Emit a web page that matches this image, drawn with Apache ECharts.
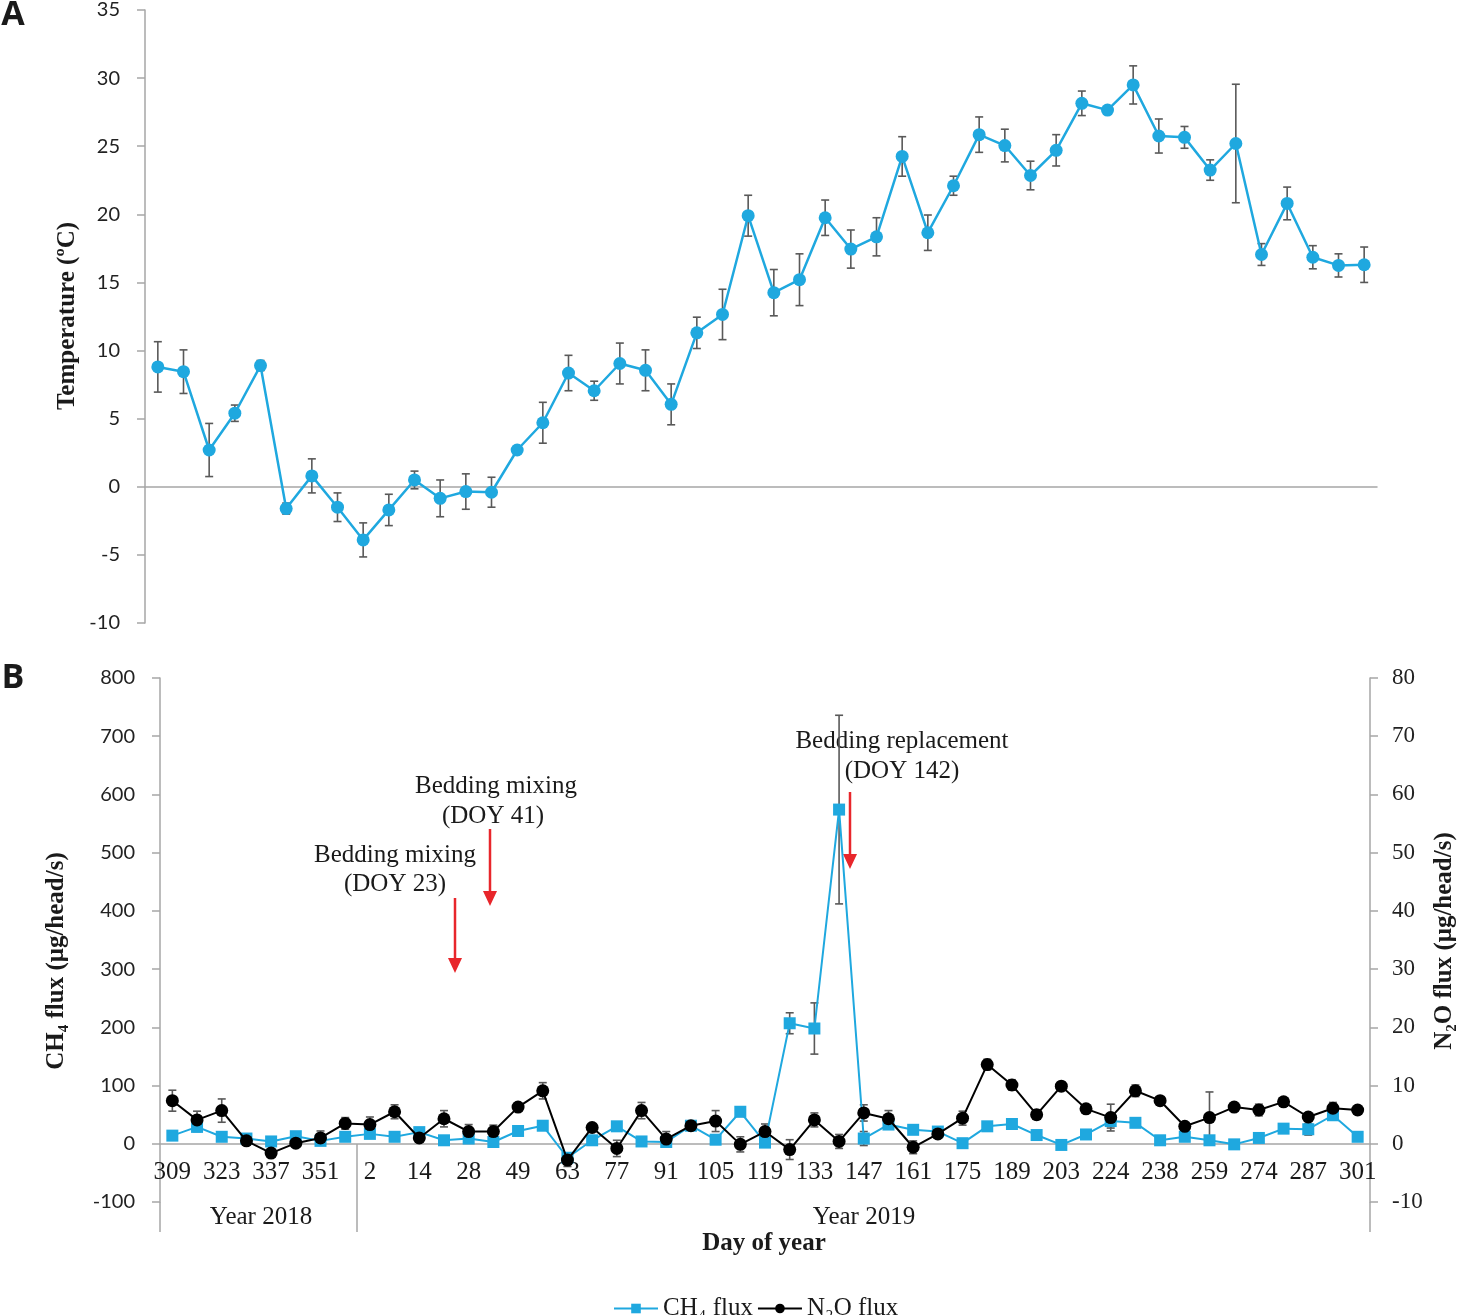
<!DOCTYPE html>
<html>
<head>
<meta charset="utf-8">
<script src="https://cdn.jsdelivr.net/npm/echarts@6/dist/echarts.min.js"></script>
<style>
html,body{margin:0;padding:0;background:#fff;}
#chart{width:1459px;height:1315px;}
</style>
</head>
<body>
<div id="chart"></div>
<script>
// ---------- Panel A: temperature ----------
var tempValues = [8.8, 8.45, 2.7, 5.4, 8.9, -1.6, 0.8, -1.5, -3.9, -1.7, 0.5, -0.85, -0.35, -0.4, 2.7, 4.7,
  8.35, 7.05, 9.05, 8.55, 6.05, 11.3, 12.65, 19.9, 14.25, 15.2, 19.75, 17.45, 18.35, 24.25, 18.65, 22.1,
  25.85, 25.05, 22.85, 24.7, 28.15, 27.65, 29.5, 25.75, 25.65, 23.25, 25.2, 17.05, 20.8, 16.85, 16.25, 16.3];
var tempErr = [1.85, 1.6, 1.95, 0.6, 0.37, 0.4, 1.25, 1.05, 1.25, 1.15, 0.65, 1.35, 1.3, 1.1, 0.2, 1.5,
  1.3, 0.7, 1.5, 1.5, 1.5, 1.15, 1.85, 1.5, 1.7, 1.9, 1.3, 1.4, 1.4, 1.45, 1.3, 0.7,
  1.3, 1.2, 1.05, 1.15, 0.9, 0.2, 1.4, 1.25, 0.8, 0.75, 4.35, 0.8, 1.2, 0.85, 0.85, 1.3];
var tempTicks = [-10, 35, 5];

// ---------- Panel B: fluxes ----------
var doyLabels = ['309','316','323','330','337','344','351','358','2','8','14','21','28','35','49','56',
  '63','70','77','84','91','98','105','112','119','126','133','140','147','154','161','168','175','182',
  '189','196','203','210','224','231','238','245','259','266','274','280','287','294','301'];
var ch4Values = [14, 29, 12, 9, 4, 13, 5, 12, 17, 12, 20, 6, 9, 3, 22, 31, -24, 6, 30, 4, 3, 31, 7, 55,
  2, 207, 198, 574, 9, 33, 24, 21, 1, 30, 34, 15, -2, 16, 39, 36, 6, 12, 6, -1, 10, 26, 25, 49, 12];
var ch4Err = [5, 8, 5, 3, 3, 4, 3, 4, 5, 4, 4, 3, 3, 2, 4, 5, 6, 3, 4, 3, 3, 5, 4, 8,
  5, 18, 44, 162, 12, 8, 5, 5, 4, 5, 5, 4, 3, 4, 12, 6, 3, 3, 5, 3, 3, 4, 10, 8, 3];
var n2oValues = [7.4, 4.1, 5.7, 0.5, -1.6, 0.1, 1.0, 3.5, 3.3, 5.5, 1.0, 4.3, 2.1, 2.1, 6.3, 9.1, -2.8,
  2.8, -0.8, 5.7, 0.8, 3.1, 3.9, -0.1, 2.1, -1.0, 4.1, 0.4, 5.3, 4.3, -0.6, 1.7, 4.4, 13.6, 10.1, 5.0,
  9.9, 6.0, 4.5, 9.1, 7.4, 3.0, 4.5, 6.3, 5.8, 7.2, 4.6, 6.1, 5.8];
var n2oErr = [1.8, 1.5, 2.0, 0.4, 0.5, 0.4, 1.2, 1.0, 1.3, 1.2, 0.4, 1.4, 1.2, 1.1, 0.6, 1.4, 1.1,
  0.6, 1.4, 1.4, 1.3, 0.7, 1.8, 1.3, 1.3, 1.7, 1.2, 1.2, 1.4, 1.4, 1.1, 0.6, 1.2, 0.9, 0.9, 0.8,
  0.6, 0.5, 2.3, 1.0, 0.5, 0.5, 4.4, 0.5, 1.0, 0.6, 0.5, 1.0, 0.3];
var ch4Ticks = [-100, 800, 100];
var n2oTicks = [-10, 80, 10];

var BLUE = '#1FA8DF';
var AXIS = '#A6A6A6';
var ERR = '#595959';
var SERIF = '"Liberation Serif", "Times New Roman", serif';
var SANS = 'Lato, "Open Sans", sans-serif';

function errData(vals, errs) {
  return vals.map(function (v, i) { return [i, v - errs[i], v + errs[i]]; });
}
function errRender(params, api) {
  var x = api.value(0);
  var lo = api.coord([x, api.value(1)]);
  var hi = api.coord([x, api.value(2)]);
  var c = 4;
  var st = { stroke: ERR, lineWidth: 1.6 };
  return {
    type: 'group',
    children: [
      { type: 'line', shape: { x1: lo[0], y1: lo[1], x2: hi[0], y2: hi[1] }, style: st },
      { type: 'line', shape: { x1: hi[0] - c, y1: hi[1], x2: hi[0] + c, y2: hi[1] }, style: st },
      { type: 'line', shape: { x1: lo[0] - c, y1: lo[1], x2: lo[0] + c, y2: lo[1] }, style: st }
    ]
  };
}
function idx(arr) { return arr.map(function (_, i) { return String(i); }); }

function arrow(x, y1, y2) {
  return {
    type: 'group',
    children: [
      { type: 'line', shape: { x1: x, y1: y1, x2: x, y2: y2 - 12 }, style: { stroke: '#E8262B', lineWidth: 2.5 } },
      { type: 'polygon', shape: { points: [[x - 7, y2 - 15], [x + 7, y2 - 15], [x, y2]] }, style: { fill: '#E8262B' } }
    ]
  };
}
function txt(x, y, s, font, rot) {
  return {
    type: 'text', x: x, y: y, rotation: rot || 0,
    style: { text: s, font: font, fill: '#1a1a1a', textAlign: 'center', textVerticalAlign: 'middle' }
  };
}
function vline(x, y1, y2) {
  return { type: 'line', shape: { x1: x, y1: y1, x2: x, y2: y2 }, style: { stroke: AXIS, lineWidth: 1.5 } };
}

var chart = echarts.init(document.getElementById('chart'), null, { renderer: 'canvas' });

var option = {
  animation: false,
  backgroundColor: '#fff',
  grid: [
    { left: 145, top: 10, width: 1232, height: 613 },
    { left: 160, top: 678, width: 1210, height: 524 },
    // helper grid whose bottom edge sits on the zero line of panel B (category labels)
    { left: 160, top: 678, width: 1210, height: 466 }
  ],
  xAxis: [
    {
      type: 'category', gridIndex: 0, data: idx(tempValues), boundaryGap: true,
      axisLine: { onZero: true, lineStyle: { color: AXIS, width: 1.5 } },
      axisTick: { show: false }, axisLabel: { show: false }, splitLine: { show: false }
    },
    {
      type: 'category', gridIndex: 1, data: doyLabels, boundaryGap: true,
      axisLine: { show: false, onZero: false },
      axisTick: { show: false }, axisLabel: { show: false }, splitLine: { show: false }
    },
    {
      type: 'category', gridIndex: 2, data: doyLabels, boundaryGap: true, position: 'bottom',
      axisLine: { show: true, onZero: false, lineStyle: { color: AXIS, width: 1.5 } },
      axisTick: { show: false },
      axisLabel: { interval: 1, margin: 16, fontFamily: SERIF, fontSize: 25, color: '#1a1a1a' },
      splitLine: { show: false }
    }
  ],
  yAxis: [
    {
      type: 'value', gridIndex: 0, min: tempTicks[0], max: tempTicks[1], interval: tempTicks[2],
      axisLine: { show: true, onZero: false, lineStyle: { color: AXIS, width: 1.5 } },
      axisTick: { show: true, length: 8, lineStyle: { color: AXIS, width: 1.5 } },
      axisLabel: { margin: 25, fontFamily: SANS, fontSize: 20, color: '#222' },
      splitLine: { show: false }
    },
    {
      type: 'value', gridIndex: 1, min: ch4Ticks[0], max: ch4Ticks[1], interval: ch4Ticks[2],
      axisLine: { show: true, onZero: false, lineStyle: { color: AXIS, width: 1.5 } },
      axisTick: { show: true, length: 8, lineStyle: { color: AXIS, width: 1.5 } },
      axisLabel: { margin: 25, fontFamily: SANS, fontSize: 20, color: '#222' },
      splitLine: { show: false }
    },
    {
      type: 'value', gridIndex: 1, position: 'right', min: n2oTicks[0], max: n2oTicks[1], interval: n2oTicks[2],
      axisLine: { show: true, onZero: false, lineStyle: { color: AXIS, width: 1.5 } },
      axisTick: { show: true, length: 8, lineStyle: { color: AXIS, width: 1.5 } },
      axisLabel: { margin: 22, fontFamily: SERIF, fontSize: 23, color: '#222' },
      splitLine: { show: false }
    },
    {
      type: 'value', gridIndex: 2, min: 0, max: 1, show: false
    }
  ],
  legend: {
    data: ['CH₄ flux', 'N₂O flux'],
    left: 608, top: 1291,
    itemWidth: 44, itemHeight: 12, itemGap: 4,
    textStyle: { fontFamily: SERIF, fontSize: 25, color: '#1a1a1a' }
  },
  series: [
    {
      type: 'custom', name: 'tempErr', xAxisIndex: 0, yAxisIndex: 0, renderItem: errRender,
      data: errData(tempValues, tempErr), encode: { x: 0, y: [1, 2] }, z: 1
    },
    {
      type: 'line', name: 'Temperature', xAxisIndex: 0, yAxisIndex: 0, data: tempValues,
      symbol: 'circle', symbolSize: 13, itemStyle: { color: BLUE },
      lineStyle: { color: BLUE, width: 2.5 }, z: 3
    },
    {
      type: 'custom', name: 'ch4Err', xAxisIndex: 1, yAxisIndex: 1, renderItem: errRender,
      data: errData(ch4Values, ch4Err), encode: { x: 0, y: [1, 2] }, z: 1
    },
    {
      type: 'custom', name: 'n2oErr', xAxisIndex: 1, yAxisIndex: 2, renderItem: errRender,
      data: errData(n2oValues, n2oErr), encode: { x: 0, y: [1, 2] }, z: 1
    },
    {
      type: 'line', name: 'CH₄ flux', xAxisIndex: 1, yAxisIndex: 1, data: ch4Values,
      symbol: 'rect', symbolSize: 12, itemStyle: { color: BLUE },
      lineStyle: { color: BLUE, width: 2 }, z: 3
    },
    {
      type: 'line', name: 'N₂O flux', xAxisIndex: 1, yAxisIndex: 2, data: n2oValues,
      symbol: 'circle', symbolSize: 13, itemStyle: { color: '#000' },
      lineStyle: { color: '#000', width: 2 }, z: 4
    }
  ],
  graphic: [
    txt(13, 15, 'A', 'bold 34px "Open Sans", sans-serif'),
    txt(13, 678, 'B', 'bold 34px "Open Sans", sans-serif'),
    txt(68, 316, 'Temperature (ºC)', 'bold 25px ' + SERIF, Math.PI / 2),
    txt(57, 961, 'CH₄ flux (μg/head/s)', 'bold 25px ' + SERIF, Math.PI / 2),
    txt(1445, 941, 'N₂O flux (μg/head/s)', 'bold 25px ' + SERIF, Math.PI / 2),
    txt(395, 855, 'Bedding mixing', '25px ' + SERIF),
    txt(395, 884, '(DOY 23)', '25px ' + SERIF),
    txt(496, 786, 'Bedding mixing', '25px ' + SERIF),
    txt(493, 816, '(DOY 41)', '25px ' + SERIF),
    txt(902, 741, 'Bedding replacement', '25px ' + SERIF),
    txt(902, 771, '(DOY 142)', '25px ' + SERIF),
    arrow(455, 898, 973),
    arrow(490, 829, 906),
    arrow(850, 792, 869),
    txt(261, 1217, 'Year 2018', '25px ' + SERIF),
    txt(864, 1217, 'Year 2019', '25px ' + SERIF),
    txt(764, 1244, 'Day of year', 'bold 25px ' + SERIF),
    vline(160, 1202, 1232),
    vline(357, 1144, 1232),
    vline(1370, 1202, 1232)
  ]
};
chart.setOption(option);
</script>
</body>
</html>
